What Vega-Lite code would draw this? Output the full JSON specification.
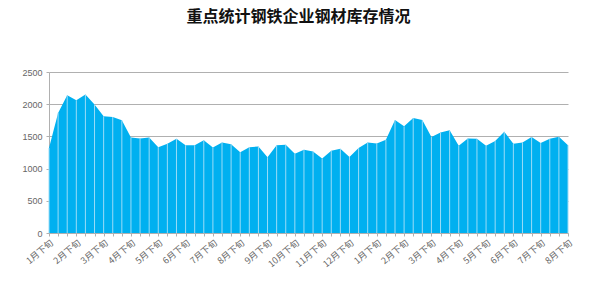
{
  "$schema": "https://vega.github.io/schema/vega-lite/v6.json",
  "width": 519,
  "height": 161,
  "autosize": "none",
  "padding": {"left": 49, "top": 72, "right": 33, "bottom": 50},
  "background": "white",
  "title": {
    "text": "重点统计钢铁企业钢材库存情况",
    "font": "Noto Sans CJK SC",
    "fontSize": 16,
    "fontWeight": "bold",
    "color": "#111111",
    "frame": "group",
    "anchor": "middle",
    "offset": 43,
    "dx": -10
  },
  "config": {
    "view": {"stroke": null},
    "axis": {
      "labelFont": "Noto Sans CJK SC",
      "labelFontSize": 9,
      "labelColor": "#666666",
      "domainColor": "#b0b0b0",
      "tickColor": "#b0b0b0",
      "gridColor": "#b0b0b0",
      "title": null
    }
  },
  "data": {
    "values": [
      {"p": "2020年1月下旬", "v": 1320},
      {"p": "2020年2月上旬", "v": 1865},
      {"p": "2020年2月中旬", "v": 2140},
      {"p": "2020年2月下旬", "v": 2062},
      {"p": "2020年3月上旬", "v": 2150},
      {"p": "2020年3月中旬", "v": 1995},
      {"p": "2020年3月下旬", "v": 1812},
      {"p": "2020年4月上旬", "v": 1802},
      {"p": "2020年4月中旬", "v": 1750},
      {"p": "2020年4月下旬", "v": 1484},
      {"p": "2020年5月上旬", "v": 1469},
      {"p": "2020年5月中旬", "v": 1484},
      {"p": "2020年5月下旬", "v": 1333},
      {"p": "2020年6月上旬", "v": 1385},
      {"p": "2020年6月中旬", "v": 1463},
      {"p": "2020年6月下旬", "v": 1364},
      {"p": "2020年7月上旬", "v": 1364},
      {"p": "2020年7月中旬", "v": 1442},
      {"p": "2020年7月下旬", "v": 1328},
      {"p": "2020年8月上旬", "v": 1406},
      {"p": "2020年8月中旬", "v": 1380},
      {"p": "2020年8月下旬", "v": 1255},
      {"p": "2020年9月上旬", "v": 1333},
      {"p": "2020年9月中旬", "v": 1344},
      {"p": "2020年9月下旬", "v": 1177},
      {"p": "2020年10月上旬", "v": 1364},
      {"p": "2020年10月中旬", "v": 1370},
      {"p": "2020年10月下旬", "v": 1229},
      {"p": "2020年11月上旬", "v": 1292},
      {"p": "2020年11月中旬", "v": 1266},
      {"p": "2020年11月下旬", "v": 1156},
      {"p": "2020年12月上旬", "v": 1276},
      {"p": "2020年12月中旬", "v": 1307},
      {"p": "2020年12月下旬", "v": 1182},
      {"p": "2021年1月上旬", "v": 1318},
      {"p": "2021年1月中旬", "v": 1406},
      {"p": "2021年1月下旬", "v": 1391},
      {"p": "2021年2月上旬", "v": 1448},
      {"p": "2021年2月中旬", "v": 1755},
      {"p": "2021年2月下旬", "v": 1656},
      {"p": "2021年3月上旬", "v": 1786},
      {"p": "2021年3月中旬", "v": 1755},
      {"p": "2021年3月下旬", "v": 1490},
      {"p": "2021年4月上旬", "v": 1562},
      {"p": "2021年4月中旬", "v": 1594},
      {"p": "2021年4月下旬", "v": 1354},
      {"p": "2021年5月上旬", "v": 1469},
      {"p": "2021年5月中旬", "v": 1463},
      {"p": "2021年5月下旬", "v": 1354},
      {"p": "2021年6月上旬", "v": 1427},
      {"p": "2021年6月中旬", "v": 1573},
      {"p": "2021年6月下旬", "v": 1385},
      {"p": "2021年7月上旬", "v": 1406},
      {"p": "2021年7月中旬", "v": 1490},
      {"p": "2021年7月下旬", "v": 1396},
      {"p": "2021年8月上旬", "v": 1463},
      {"p": "2021年8月中旬", "v": 1495},
      {"p": "2021年8月下旬", "v": 1364}
    ]
  },
  "encoding": {
    "x": {
      "field": "p",
      "type": "ordinal",
      "sort": null,
      "scale": {"type": "point", "padding": 0},
      "axis": {
        "labelAngle": -40,
        "labelExpr": "indexof(datum.value, '下旬') > 0 ? slice(datum.value, indexof(datum.value, '年') + 1) : ''",
        "labelOverlap": false,
        "tickSize": 3,
        "labelPadding": 2,
        "grid": false,
        "zindex": 1
      }
    },
    "y": {
      "field": "v",
      "type": "quantitative",
      "scale": {"domain": [0, 2500], "nice": false},
      "axis": {
        "values": [0, 500, 1000, 1500, 2000, 2500],
        "format": "d",
        "grid": true,
        "tickSize": 3,
        "labelPadding": 4,
        "labelFont": "Liberation Sans"
      }
    }
  },
  "layer": [
    {"mark": {"type": "area", "color": "#00b0f0", "interpolate": "linear", "opacity": 1}},
    {
      "mark": {"type": "rule", "color": "#9adcf7", "strokeWidth": 1},
      "encoding": {"y2": {"datum": 0}}
    }
  ]
}
